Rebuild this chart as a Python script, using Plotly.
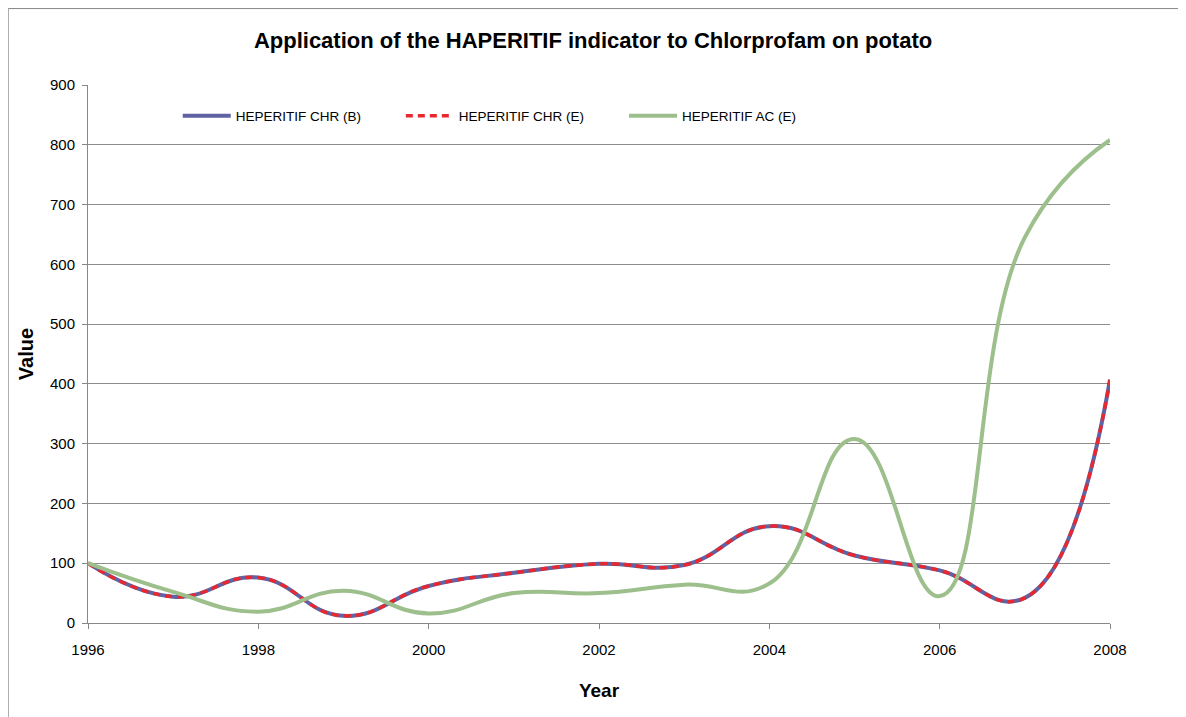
import plotly.graph_objects as go

years = [1996, 1997, 1998, 1999, 2000, 2001, 2002, 2003, 2004, 2005, 2006, 2007, 2008]
chr_b = [100, 44, 76, 12, 62, 84, 99, 97, 162, 113, 88, 42, 407]
chr_e = [100, 44, 76, 12, 62, 84, 99, 97, 162, 113, 88, 42, 407]
ac_e = [100, 52, 19, 54, 16, 50, 50, 64, 66, 308, 45, 645, 808]

names = ["HEPERITIF CHR (B)", "HEPERITIF CHR (E)", "HEPERITIF AC (E)"]
FONT = "Liberation Sans, Arial, sans-serif"
SMOOTH = 1.3

fig = go.Figure()

fig.add_trace(go.Scatter(
    x=years, y=chr_b, name=names[0], mode="lines",
    line=dict(color="#5f62a3", width=4, shape="spline", smoothing=SMOOTH),
    legend="legend"
))
fig.add_trace(go.Scatter(
    x=years, y=chr_e, name=names[1], mode="lines",
    line=dict(color="#e8282e", width=3.4, dash="7px,5px", shape="spline", smoothing=SMOOTH),
    legend="legend2"
))
fig.add_trace(go.Scatter(
    x=years, y=ac_e, name=names[2], mode="lines",
    line=dict(color="#9cbf8c", width=4, shape="spline", smoothing=SMOOTH),
    legend="legend3"
))

# one legend per entry so the entries sit at Excel's even spacing
leg = dict(orientation="h", yanchor="middle", y=0.9424, xanchor="left",
           bgcolor="rgba(0,0,0,0)", font=dict(family=FONT, size=13.5, color="#000"),
           itemwidth=48)

fig.update_layout(
    width=1186, height=717,
    showlegend=True,
    margin=dict(l=80, r=84, t=77, b=102),
    paper_bgcolor="white", plot_bgcolor="white",
    title=dict(text="<b>Application of the HAPERITIF indicator to Chlorprofam on potato</b>",
               xref="container", x=0.4933, xanchor="center",
               yref="container", y=0.9554, yanchor="middle",
               font=dict(family=FONT, size=22, color="#000")),
    legend=dict(leg, x=0.0878),
    legend2=dict(leg, x=0.3061),
    legend3=dict(leg, x=0.5245),
    xaxis=dict(
        range=[1996, 2008], dtick=2, tick0=1996, showgrid=False,
        showline=True, linecolor="#888", linewidth=1,
        ticks="outside", ticklen=5, tickcolor="#888", ticklabelstandoff=8,
        tickfont=dict(family=FONT, size=15, color="#000"),
        title=dict(text="<b>Year</b>", font=dict(family=FONT, size=19, color="#000"), standoff=26),
        zeroline=False, automargin=False
    ),
    yaxis=dict(
        range=[0, 900], dtick=100, showgrid=True, gridcolor="#8c8c8c", gridwidth=1,
        showline=True, linecolor="#888", linewidth=1,
        ticks="outside", ticklen=5, tickcolor="#888", ticklabelstandoff=4,
        tickfont=dict(family=FONT, size=15, color="#000"),
        title=dict(text="<b>Value</b>", font=dict(family=FONT, size=20, color="#000"), standoff=10),
        zeroline=False, automargin=False
    ),
    shapes=[dict(type="rect", xref="paper", yref="paper",
                 x0=-0.0781, x1=1.2, y0=-0.25, y1=1.1421,
                 line=dict(color="#888", width=1), fillcolor="rgba(0,0,0,0)", layer="below")]
)

fig.write_html("out.html")
